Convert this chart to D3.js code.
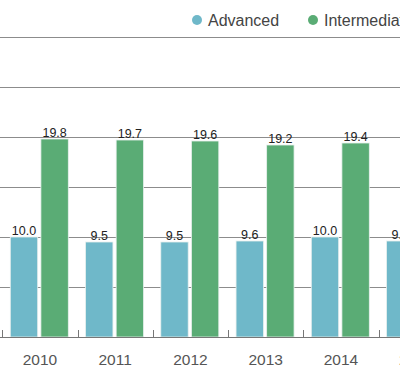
<!DOCTYPE html>
<html lang="en">
<head>
<meta charset="UTF-8">
<title>Advanced vs Intermediate</title>
<script src="https://d3js.org/d3.v7.min.js"></script>
<style>
    body { margin: 0; background: #fff; }
    svg text { font-family: "Liberation Sans", Arial, sans-serif; }
</style>
</head>
<body>
<div id="chart"></div>
<script>
    // data
    const years = ["2010", "2011", "2012", "2013", "2014", "2015"];
    const series = ["Advanced", "Intermediate"];
    const advanced = [10.0, 9.5, 9.5, 9.6, 10.0, 9.6];
    const intermediate = [19.8, 19.7, 19.6, 19.2, 19.4, 19.5];
    const gridTicks = [5, 10, 15, 20, 25, 30];
    const colors = { Advanced: "#6fb8c9", Intermediate: "#5aac75" };

    const width = 400, height = 383;
    const svg = d3.select("#chart").append("svg")
        .attr("width", width).attr("height", height);

    const step = 75.25;
    const x = d3.scaleBand().domain(years).range([2.3, 2.3 + step * years.length]);
    const xSub = d3.scaleBand().domain(series).range([8, 66]).paddingInner(0.105);
    const y = d3.scaleLinear().domain([0, 30]).range([337, 37]);

    // gridlines
    svg.append("g").selectAll("line")
        .data(gridTicks)
        .join("line")
        .attr("x1", 0).attr("x2", width)
        .attr("y1", d => y(d) + 0.5).attr("y2", d => y(d) + 0.5)
        .attr("stroke", "#8c8c8c").attr("stroke-width", 1);

    const rows = years.map((yr, i) => ({ year: yr, Advanced: advanced[i], Intermediate: intermediate[i] }));

    const groups = svg.append("g").selectAll("g")
        .data(rows)
        .join("g")
        .attr("transform", d => `translate(${x(d.year)},0)`);

    groups.selectAll("rect")
        .data(d => series.map(s => ({ key: s, value: d[s] })))
        .join("rect")
        .attr("x", d => xSub(d.key))
        .attr("y", d => y(d.value))
        .attr("width", xSub.bandwidth())
        .attr("height", d => y(0) - y(d.value))
        .attr("fill", d => colors[d.key])
        .attr("stroke", "#e8f0ee").attr("stroke-width", 0.8);

    groups.selectAll("text.val")
        .data(d => series.map(s => ({ key: s, value: d[s] })))
        .join("text")
        .attr("class", "val")
        .attr("x", d => xSub(d.key) + xSub.bandwidth() / 2)
        .attr("y", d => y(d.value) - 2.5)
        .attr("text-anchor", "middle")
        .attr("font-size", "12.5px")
        .attr("fill", "#222")
        .text(d => d.value.toFixed(1));

    // x axis
    const xAxis = svg.append("g").attr("transform", `translate(0,${y(0)})`);
    xAxis.append("line")
        .attr("x1", 0).attr("x2", width)
        .attr("y1", 0.5).attr("y2", 0.5)
        .attr("stroke", "#777");
    xAxis.selectAll("line.tick")
        .data(years)
        .join("line")
        .attr("class", "tick")
        .attr("x1", d => Math.round(x(d)) + 0.5).attr("x2", d => Math.round(x(d)) + 0.5)
        .attr("y1", -7).attr("y2", 0)
        .attr("stroke", "#777");
    xAxis.selectAll("text")
        .data(years)
        .join("text")
        .attr("x", d => x(d) + x.bandwidth() / 2)
        .attr("y", 28)
        .attr("text-anchor", "middle")
        .attr("font-size", "15.5px")
        .attr("fill", "#555")
        .text(d => d);

    // legend
    const legendX = { Advanced: 197, Intermediate: 313 };
    const legend = svg.append("g").selectAll("g")
        .data(series)
        .join("g")
        .attr("transform", d => `translate(${legendX[d]},20)`);
    legend.append("circle").attr("r", 5).attr("fill", d => colors[d]);
    legend.append("text")
        .attr("x", 11).attr("y", 6)
        .attr("font-size", "16px")
        .attr("fill", "#444")
        .text(d => d);
</script>
</body>
</html>
